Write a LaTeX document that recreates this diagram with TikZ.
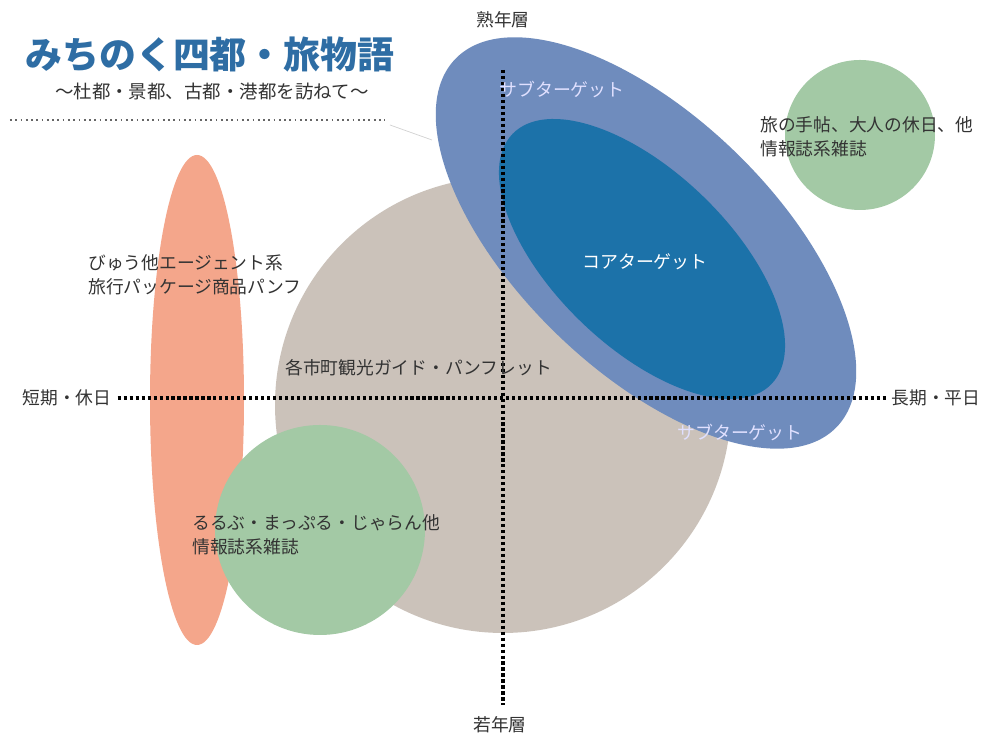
\documentclass[tikz,border=0pt]{standalone}
\usepackage{fontspec}
\setmainfont{Noto Sans CJK JP}
\usetikzlibrary{positioning}
\definecolor{salmon}{HTML}{F4A68B}
\definecolor{warmgray}{HTML}{CBC2BA}
\definecolor{sage}{HTML}{A3C9A5}
\definecolor{slateblue}{HTML}{6F8CBD}
\definecolor{coreblue}{HTML}{1C72A9}
\definecolor{titleblue}{HTML}{2E6DA4}
\definecolor{inktext}{HTML}{333333}
\tikzset{
  axisline/.style={line width=1.8pt, dash pattern=on 1.8pt off 1.6pt, black},
  lbl/.style={inner sep=0pt, text=inktext, font=\fontsize{10.1}{13.5}\selectfont},
  tgt/.style={inner sep=0pt, text=white, font=\fontsize{10.2}{12}\selectfont},
}
\begin{document}
\begin{tikzpicture}
\useasboundingbox (0,0) rectangle (19.76,14.76);
\fill[white] (0,0) rectangle (19.76,14.76);

% media ranges
\fill[warmgray] (10.06,6.66) circle (4.56);
\fill[salmon] (3.94,6.76) ellipse [x radius=0.94, y radius=4.9];
\fill[sage] (6.40,4.16) circle (2.1);
\fill[sage] (17.2,12.06) circle (1.5);

% targets
\fill[slateblue, rotate around={-44:(12.92,9.90)}] (12.92,9.90) ellipse [x radius=5.3, y radius=2.55];
\fill[coreblue, rotate around={-44:(12.84,9.58)}] (12.84,9.58) ellipse [x radius=3.6, y radius=1.75];

% title
\node[inner sep=0pt, text=titleblue, font=\fontsize{21}{24}\selectfont\bfseries] (title) at (4.2,13.66) {みちのく四都・旅物語};
\node[inner sep=0pt, text=inktext, font=\fontsize{10.5}{12}\selectfont] (subtitle) at (4.24,12.92) {～杜都・景都、古都・港都を訪ねて～};
\coordinate (rulestart) at (0.2,12.36);
\coordinate (ruleend) at (7.7,12.36);
\coordinate (ruletip) at (8.64,11.96);
\draw[line width=1pt, dotted, gray!80!black] (rulestart) -- (ruleend);
\draw[line width=0.4pt, gray!35] (7.8,12.26) -- (ruletip);

% axes
\node[lbl] (older) at (10.06,14.36) {熟年層};
\node[lbl] (younger) at (10.0,0.26) {若年層};
\node[lbl] (shortterm) at (1.34,6.80) {短期・休日};
\node[lbl] (longterm) at (18.72,6.80) {長期・平日};
\coordinate (vtop) at (10.06,13.36);
\coordinate (vbot) at (10.06,0.66);
\draw[axisline] (vtop) -- (vbot);
\draw[axisline] (shortterm.east) ++(0.12,0) -- ([xshift=-0.1cm]longterm.west);

% labels
\node[lbl, anchor=west, align=left] (magazines) at (15.2,12.02) {旅の手帖、大人の休日、他\\情報誌系雑誌};
\node[lbl, anchor=west, align=left] (agents) at (1.76,9.26) {びゅう他エージェント系\\旅行パッケージ商品パンフ};
\node[lbl, anchor=west] (guides) at (5.70,7.40) {各市町観光ガイド・パンフレット};
\node[lbl, anchor=west, align=left] (guidebooks) at (3.84,4.06) {るるぶ・まっぷる・じゃらん他\\情報誌系雑誌};
\node[tgt, text=white!88!blue] (subupper) at (11.24,12.96) {サブターゲット};
\node[tgt] (core) at (12.9,9.52) {コアターゲット};
\node[tgt, text=white!88!blue] (sublower) at (14.8,6.10) {サブターゲット};
\end{tikzpicture}
\end{document}
